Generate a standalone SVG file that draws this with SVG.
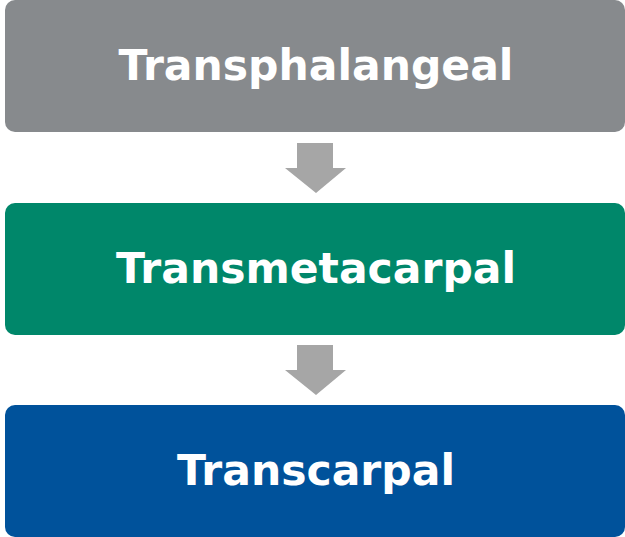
<svg xmlns="http://www.w3.org/2000/svg" width="625" height="537" viewBox="0 0 625 537">
<style>
.lbl{font-family:"DejaVu Sans",Verdana,sans-serif;font-weight:bold;font-size:42.5px;fill:#ffffff;text-anchor:middle}
.arr{fill:#a6a6a6}
</style>
<g id="connectors">
<polygon class="arr" points="297,143 333,143 333,168 346,168 316,193 285,168 297,168"/>
<polygon class="arr" points="297,345 333,345 333,370 346,370 316,395 285,370 297,370"/>
</g>
<g id="transphalangeal">
<rect x="5" y="0" width="620" height="132" rx="10" fill="#878a8d"/>
<text class="lbl" x="316" y="80">Transphalangeal</text>
</g>
<g id="transmetacarpal">
<rect x="5" y="203" width="620" height="132" rx="10" fill="#00876a"/>
<text class="lbl" x="316" y="283">Transmetacarpal</text>
</g>
<g id="transcarpal">
<rect x="5" y="405" width="620" height="132" rx="10" fill="#00529b"/>
<text class="lbl" x="316" y="485">Transcarpal</text>
</g>
</svg>
